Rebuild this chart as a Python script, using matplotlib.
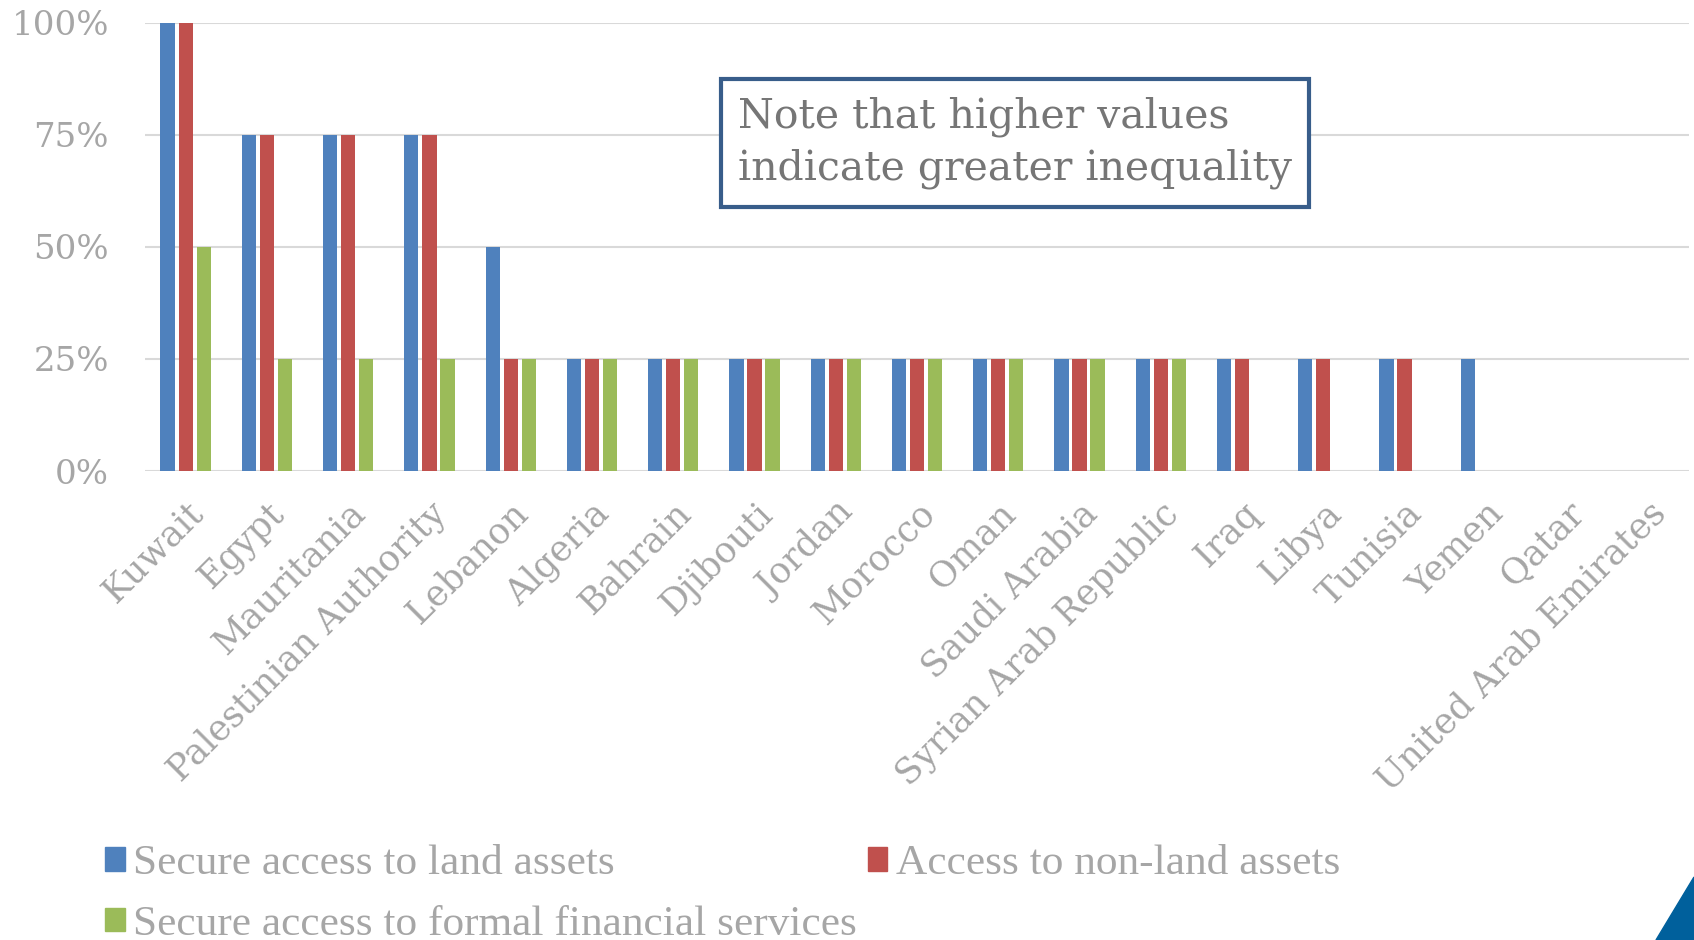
import matplotlib
matplotlib.use("Agg")
import matplotlib.pyplot as plt
import numpy as np
from matplotlib.patches import Polygon, Patch

countries = ["Kuwait", "Egypt", "Mauritania", "Palestinian Authority", "Lebanon",
             "Algeria", "Bahrain", "Djibouti", "Jordan", "Morocco", "Oman",
             "Saudi Arabia", "Syrian Arab Republic", "Iraq", "Libya", "Tunisia",
             "Yemen", "Qatar", "United Arab Emirates"]
land = [1.00, 0.75, 0.75, 0.75, 0.50, 0.25, 0.25, 0.25, 0.25, 0.25, 0.25,
        0.25, 0.25, 0.25, 0.25, 0.25, 0.25, 0.0, 0.0]
nonland = [1.00, 0.75, 0.75, 0.75, 0.25, 0.25, 0.25, 0.25, 0.25, 0.25, 0.25,
           0.25, 0.25, 0.25, 0.25, 0.25, 0.0, 0.0, 0.0]
financial = [0.50, 0.25, 0.25, 0.25, 0.25, 0.25, 0.25, 0.25, 0.25, 0.25, 0.25,
             0.25, 0.25, 0.0, 0.0, 0.0, 0.0, 0.0, 0.0]
series_names = ["Secure access to land assets", "Access to non-land assets",
                "Secure access to formal financial services"]
colors = ["#4F81BD", "#C0504D", "#9BBB59"]
yticks = [0, 0.25, 0.5, 0.75, 1.0]
ytick_labels = ["0%", "25%", "50%", "75%", "100%"]
note = "Note that higher values\nindicate greater inequality"

W, H = 1694, 940
fig = plt.figure(figsize=(W / 100, H / 100), dpi=100)
ax = fig.add_axes([145 / W, 1 - 471 / H, (1689 - 145) / W, (471 - 22.7) / H])

x = np.arange(len(countries))
bw = 0.175
step = 0.222
for i, (vals, c) in enumerate(zip([land, nonland, financial], colors)):
    ax.bar(x + (i - 1) * step, vals, width=bw, color=c, zorder=3)

ax.set_xlim(-0.5, len(countries) - 0.5)
ax.set_ylim(0, 1)
ax.set_yticks(yticks)
ax.set_yticklabels(ytick_labels)
ax.yaxis.grid(True, color="#D9D9D9", linewidth=1.5, zorder=0)
for s in ax.spines.values():
    s.set_visible(False)
ax.tick_params(axis="both", length=0)
ax.tick_params(axis="y", pad=26, labelsize=24.5, labelcolor="#A6A6A6")
for lab in ax.get_yticklabels():
    lab.set_family("DejaVu Serif")

ax.set_xticks(x)
ax.set_xticklabels(countries, rotation=45, ha="right", va="top",
                   rotation_mode="anchor", fontsize=25.5, color="#A6A6A6",
                   family="DejaVu Serif")
ax.tick_params(axis="x", pad=18)

# note box
fig.text(738 / W, 1 - 143 / H, note, fontsize=29.5, color="#767676",
         family="DejaVu Serif", va="center", ha="left", linespacing=1.38,
         bbox=dict(boxstyle="square,pad=0.42", fc="white", ec="#385D8A", lw=3))

# legend
handles = [Patch(color=colors[0]), Patch(color=colors[2]), Patch(color=colors[1])]
labels = [series_names[0], series_names[2], series_names[1]]
leg = fig.legend(handles, labels, ncol=2, loc="upper left",
                 bbox_to_anchor=(105 / W, 1 - 845 / H), frameon=False,
                 prop=dict(family="Liberation Serif", size=31.2),
                 labelcolor="#A6A6A6", handlelength=0.45, handleheight=0.45,
                 handletextpad=0.2, columnspacing=0.25, labelspacing=0.5,
                 borderaxespad=0, borderpad=0)

# corner triangle
tri = Polygon([[1656 / W, 0], [1694 / W, 63 / H], [1694 / W, 0]],
              closed=True, transform=fig.transFigure, color="#00609C")
fig.patches.append(tri)

fig.savefig("out.png", dpi=100)
